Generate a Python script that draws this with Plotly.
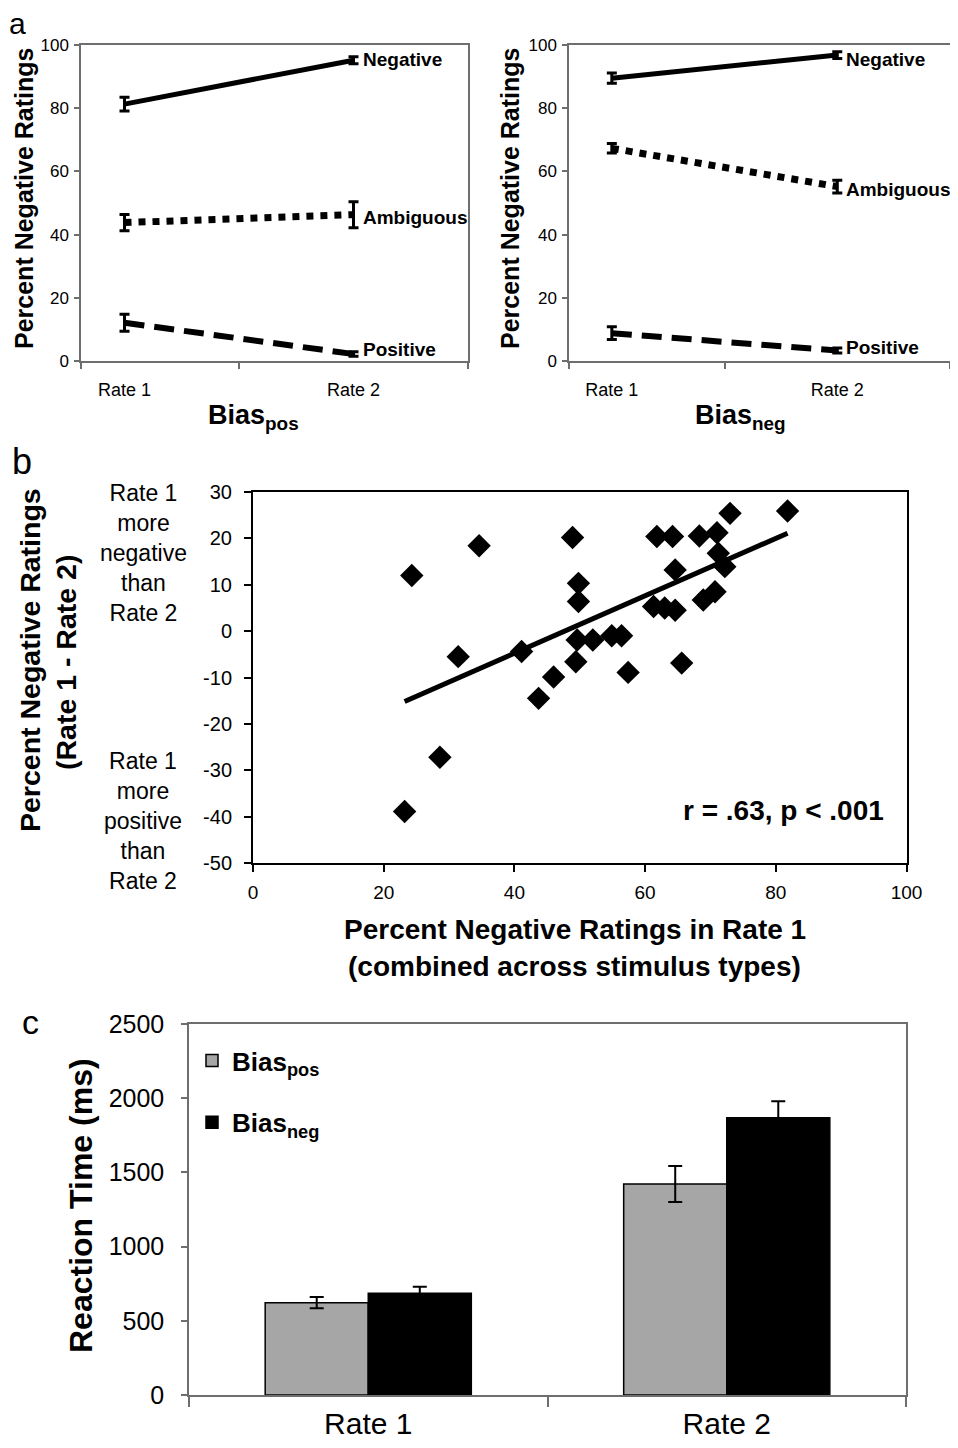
import numpy as np
import plotly.graph_objects as go

FONT = "Liberation Sans, Arial, sans-serif"
W, H = 942, 1432      # figure size (page body margin takes the rest of the window)
OX, OY = 8, 8         # offset of the figure inside the page

# ---------------- data ----------------
rates = ["Rate 1", "Rate 2"]
rate_pos = [0, 1]

# Panel a, Bias_pos
biaspos_negative = [81.3, 95.2]
biaspos_negative_err = [2.2, 1.1]
biaspos_ambiguous = [43.8, 46.3]
biaspos_ambiguous_err = [2.6, 4.1]
biaspos_positive = [12.1, 2.2]
biaspos_positive_err = [2.7, 0.7]

# Panel a, Bias_neg
biasneg_negative = [89.5, 96.8]
biasneg_negative_err = [1.6, 1.1]
biasneg_ambiguous = [67.3, 55.2]
biasneg_ambiguous_err = [1.5, 2.0]
biasneg_positive = [8.8, 3.3]
biasneg_positive_err = [2.0, 0.8]

series_names = ["Negative", "Ambiguous", "Positive"]

# Panel b scatter
rate1_neg = [23.2, 24.3, 28.6, 31.4, 34.6, 41.1, 43.7, 46.0, 48.9, 49.8, 49.8,
             49.6, 49.4, 52.0, 54.9, 56.4, 57.4, 61.8, 64.2, 61.3, 63.0, 64.6,
             64.6, 65.6, 68.3, 68.9, 70.7, 71.0, 71.2, 72.2, 73.0, 81.8]
diff_neg = [-38.9, 12.0, -27.2, -5.5, 18.4, -4.4, -14.5, -9.9, 20.2, 10.3, 6.4,
            -1.9, -6.6, -1.9, -1.0, -1.0, -8.9, 20.4, 20.4, 5.3, 5.0, 4.5,
            13.2, -6.9, 20.5, 6.7, 8.5, 21.2, 16.8, 13.9, 25.4, 25.9]
b_yticks = [30, 20, 10, 0, -10, -20, -30, -40, -50]
b_xticks = [0, 20, 40, 60, 80, 100]

# Panel c reaction times
rt_biaspos = [622, 1422]
rt_biaspos_err = [38, 121]
rt_biasneg = [685, 1869]
rt_biasneg_err = [45, 110]


def px_x(p):
    return (p - OX) / W


def px_y(p):
    return 1 - (p - OY) / H


fig = go.Figure()

styles = [dict(dash="solid", width=5),
          dict(dash="7px,7px", width=7),
          dict(dash="20px,10px", width=6)]


def add_lines(vals, errs, xa, ya):
    for v, e, st in zip(vals, errs, styles):
        fig.add_trace(go.Scatter(
            x=rate_pos, y=v, mode="lines",
            line=dict(color="black", width=st["width"], dash=st["dash"]),
            error_y=dict(type="data", array=e, color="black", thickness=3, width=5),
            xaxis=xa, yaxis=ya, showlegend=False, hoverinfo="skip"))


add_lines([biaspos_negative, biaspos_ambiguous, biaspos_positive],
          [biaspos_negative_err, biaspos_ambiguous_err, biaspos_positive_err], "x", "y")
add_lines([biasneg_negative, biasneg_ambiguous, biasneg_positive],
          [biasneg_negative_err, biasneg_ambiguous_err, biasneg_positive_err], "x2", "y2")

# Panel b
fig.add_trace(go.Scatter(
    x=rate1_neg, y=diff_neg, mode="markers",
    marker=dict(symbol="diamond", size=18, color="black"),
    xaxis="x3", yaxis="y3", showlegend=False, hoverinfo="skip"))
coef = np.polyfit(rate1_neg, diff_neg, 1)
fit_x = [min(rate1_neg), max(rate1_neg)]
fit_y = list(np.polyval(coef, fit_x))
fig.add_trace(go.Scatter(
    x=fit_x, y=fit_y, mode="lines", line=dict(color="black", width=5),
    xaxis="x3", yaxis="y3", showlegend=False, hoverinfo="skip"))

# Panel c
fig.add_trace(go.Bar(
    x=rates, y=rt_biaspos, name="<b>Bias<sub>pos</sub></b>",
    marker=dict(color="#a6a6a6", line=dict(color="black", width=1.5)),
    error_y=dict(type="data", array=rt_biaspos_err, color="black", thickness=2, width=7),
    xaxis="x4", yaxis="y4", legendgroup="a"))
fig.add_trace(go.Bar(
    x=rates, y=rt_biasneg, name="<b>Bias<sub>neg</sub></b>",
    marker=dict(color="black", line=dict(color="black", width=1.5)),
    error_y=dict(type="data", array=rt_biasneg_err, color="black", thickness=2, width=7),
    xaxis="x4", yaxis="y4", legendgroup="b"))

gray_ax = "#6e6e6e"

a_x_common = dict(range=[-0.19, 1.5], tickmode="array", tickvals=rate_pos, ticktext=rates,
                  ticks="", showline=True, linecolor=gray_ax, linewidth=1.5, mirror=True,
                  showgrid=False, zeroline=False, ticklabelstandoff=12,
                  tickfont=dict(family=FONT, size=18, color="black"),
                  minor=dict(tickmode="array", tickvals=[-0.19, 0.5, 1.5], ticks="outside",
                             ticklen=6, tickcolor=gray_ax, tickwidth=1.5, showgrid=False))
a_y_common = dict(range=[0, 100], dtick=20, ticks="outside", ticklen=5, tickcolor=gray_ax,
                  tickwidth=1.5, showline=True, linecolor=gray_ax, linewidth=1.5, mirror=True,
                  showgrid=False, zeroline=False, ticklabelstandoff=2,
                  tickfont=dict(family=FONT, size=17, color="black"))

fig.update_layout(
    width=W, height=H, margin=dict(l=0, r=0, t=0, b=0, autoexpand=False),
    paper_bgcolor="white", plot_bgcolor="white",
    font=dict(family=FONT, color="black"),
    barmode="group", bargap=0.425, bargroupgap=0,
    xaxis=dict(domain=[px_x(81), px_x(468)], anchor="y", **a_x_common),
    yaxis=dict(domain=[px_y(361), px_y(45)], anchor="x", **a_y_common),
    xaxis2=dict(domain=[px_x(569), min(1.0, px_x(957))], anchor="y2", **a_x_common),
    yaxis2=dict(domain=[px_y(361), px_y(45)], anchor="x2", **a_y_common),
    xaxis3=dict(domain=[px_x(253), px_x(906.5)], anchor="y3", range=[0, 100],
                tickmode="array", tickvals=b_xticks, ticktext=[str(v) for v in b_xticks],
                ticks="outside", ticklen=7, tickwidth=2, tickcolor="black",
                showline=True, linecolor="black", linewidth=2, mirror=True,
                showgrid=False, zeroline=False, ticklabelstandoff=4,
                tickfont=dict(family=FONT, size=19, color="black")),
    yaxis3=dict(domain=[px_y(863), px_y(492)], anchor="x3", range=[-50, 30],
                tickmode="array", tickvals=b_yticks, ticktext=[str(v) for v in b_yticks],
                ticks="outside", ticklen=7, tickwidth=2, tickcolor="black",
                showline=True, linecolor="black", linewidth=2, mirror=True,
                showgrid=False, zeroline=False, ticklabelstandoff=8,
                tickfont=dict(family=FONT, size=20, color="black")),
    xaxis4=dict(domain=[px_x(189), px_x(906)], anchor="y4", type="category",
                tickson="boundaries", ticks="outside", ticklen=10, tickcolor=gray_ax,
                tickwidth=1.5, showline=True, linecolor=gray_ax, linewidth=1.5,
                mirror=True, showgrid=False, zeroline=False, ticklabelstandoff=1,
                tickfont=dict(family=FONT, size=30, color="black")),
    yaxis4=dict(domain=[px_y(1395), px_y(1024)], anchor="x4", range=[0, 2500], dtick=500,
                ticks="outside", ticklen=6, tickcolor=gray_ax, tickwidth=1.5,
                showline=True, linecolor=gray_ax, linewidth=1.5, mirror=True,
                showgrid=False, zeroline=False, ticklabelstandoff=12,
                tickfont=dict(family=FONT, size=25, color="black")),
    legend=dict(x=px_x(192), y=px_y(1037), xanchor="left", yanchor="top",
                font=dict(family=FONT, size=26, color="black"),
                bgcolor="rgba(0,0,0,0)", tracegroupgap=25, itemwidth=30,
                traceorder="grouped"),
)

ann = []


def text(x, y, s, size, bold=False, angle=0, xanchor="center", yanchor="middle", align="center"):
    ann.append(dict(x=px_x(x), y=px_y(y), xref="paper", yref="paper", showarrow=False,
                    text=f"<b>{s}</b>" if bold else s, textangle=angle,
                    font=dict(family=FONT, size=size, color="black"),
                    xanchor=xanchor, yanchor=yanchor, align=align))


# series labels in panel a
for xa, ya, vals, shifts in [("x", "y", [biaspos_negative, biaspos_ambiguous, biaspos_positive], [1, -3, 5]),
                             ("x2", "y2", [biasneg_negative, biasneg_ambiguous, biasneg_positive], [-4, -3, 3])]:
    for name, v, sh in zip(series_names, vals, shifts):
        ann.append(dict(x=1, y=v[1], xref=xa, yref=ya, showarrow=False, text=f"<b>{name}</b>",
                        xanchor="left", yanchor="middle", xshift=7, yshift=sh,
                        font=dict(family=FONT, size=19, color="black")))

# panel letters
text(17, 24, "a", 30)
text(22, 462, "b", 36)
text(30, 1022, "c", 34)

# panel a titles
text(24, 198, "Percent Negative Ratings", 25, bold=True, angle=-90)
text(510, 198, "Percent Negative Ratings", 25, bold=True, angle=-90)
text(253, 417, "Bias<sub>pos</sub>", 27, bold=True)
text(740, 417, "Bias<sub>neg</sub>", 27, bold=True)

# panel b texts
text(30, 660, "Percent Negative Ratings", 28.5, bold=True, angle=-90)
text(66, 663, "(Rate 1 - Rate 2)", 28.5, bold=True, angle=-90)
text(143, 553, "Rate 1<br>more<br>negative<br>than<br>Rate 2", 23)
text(143, 821, "Rate 1<br>more<br>positive<br>than<br>Rate 2", 23)
text(575, 930, "Percent Negative Ratings in Rate 1", 28, bold=True)
text(574, 967, "(combined across stimulus types)", 28, bold=True)
text(783, 810, "r = .63, p &lt; .001", 28, bold=True)

# panel c
text(81, 1206, "Reaction Time (ms)", 32, bold=True, angle=-90)

fig.update_layout(annotations=ann)

fig.write_html("out.html")
